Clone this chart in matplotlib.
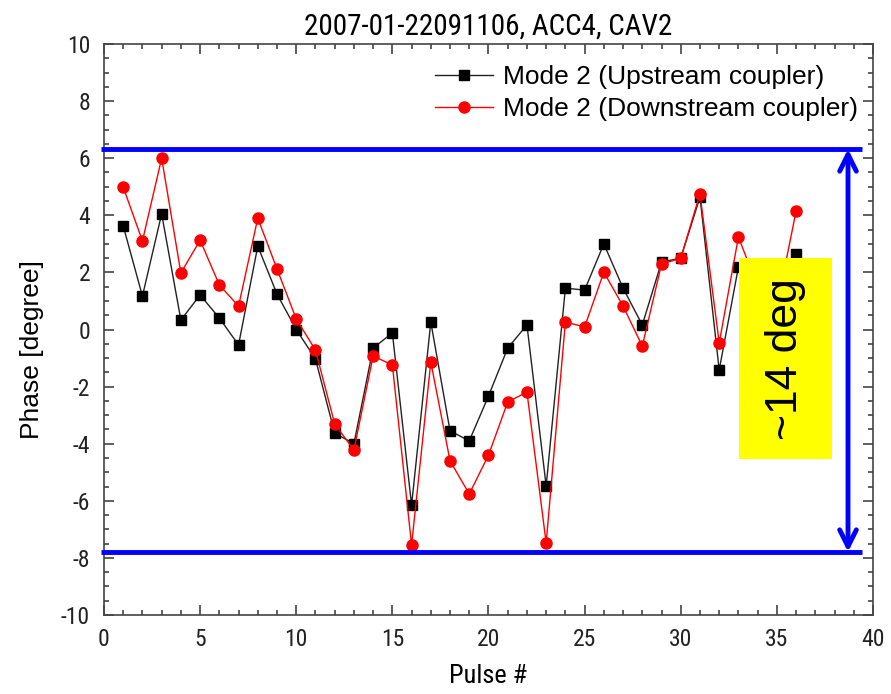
import matplotlib
matplotlib.use("Agg")
import matplotlib.pyplot as plt
from matplotlib.patches import Rectangle
from matplotlib.ticker import MultipleLocator

plt.rcParams["axes.unicode_minus"] = False

narrow = ["Liberation Sans Narrow", "Roboto Condensed", "Liberation Sans", "DejaVu Sans"]
plain = ["Liberation Sans", "DejaVu Sans"]

pulses = list(range(1, 37))
upstream = [3.63, 1.17, 4.05, 0.33, 1.21, 0.40, -0.54, 2.92, 1.24, 0.0,
            -1.03, -3.63, -4.0, -0.65, -0.12, -6.15, 0.26, -3.55, -3.9, -2.33,
            -0.65, 0.16, -5.48, 1.45, 1.38, 3.0, 1.45, 0.16, 2.36, 2.5,
            4.64, -1.42, 2.19, 1.2, 1.0, 2.64]
downstream = [4.99, 3.1, 6.0, 1.98, 3.13, 1.56, 0.82, 3.9, 2.12, 0.37,
              -0.72, -3.31, -4.22, -0.93, -1.24, -7.55, -1.14, -4.6, -5.76, -4.4,
              -2.54, -2.19, -7.48, 0.26, 0.09, 2.01, 0.82, -0.58, 2.29, 2.5,
              4.75, -0.47, 3.24, 1.5, 0.8, 4.15]

band_top = 6.32
band_bottom = -7.79
band_label = "~14 deg"

fig = plt.figure(figsize=(8.91, 6.94), dpi=100)
ax = fig.add_axes([0.1167, 0.1138, 0.8631, 0.8228])

ax.plot(pulses, upstream, color="#222222", lw=1.0, marker="s", ms=7,
        mfc="black", mec="black", label="Mode 2 (Upstream coupler)", zorder=3)
ax.plot(pulses, downstream, color="red", lw=1.0, marker="o", ms=8,
        mfc="red", mec="red", label="Mode 2 (Downstream coupler)", zorder=4)

ax.set_xlim(0, 40)
ax.set_ylim(-10, 10)
ax.xaxis.set_major_locator(MultipleLocator(5))
ax.xaxis.set_minor_locator(MultipleLocator(1))
ax.yaxis.set_major_locator(MultipleLocator(2))
ax.yaxis.set_minor_locator(MultipleLocator(0.5))
ax.tick_params(which="both", direction="in", top=True, right=True,
               color="#444444", width=1.2)
ax.tick_params(which="major", length=7, labelsize=17)
ax.tick_params(axis="x", which="major", pad=9)
ax.tick_params(axis="y", which="major", pad=10)
ax.tick_params(which="minor", length=3.5)
for lab in ax.get_xticklabels() + ax.get_yticklabels():
    lab.set_family(narrow)
    lab.set_color("#222222")
for sp in ax.spines.values():
    sp.set_color("#444444")
    sp.set_linewidth(1.2)

ax.set_title("2007-01-22091106, ACC4, CAV2", family=narrow, fontsize=21,
             pad=7)
ax.set_xlabel("Pulse #", family=narrow, fontsize=19, labelpad=10)
ax.set_ylabel("Phase [degree]", family=plain, fontsize=19)
ax.yaxis.set_label_coords(-0.078, 0.465)

leg = ax.legend(loc="upper right", frameon=False,
                prop={"family": plain, "size": 19}, handlelength=2.2,
                handletextpad=0.4, labelspacing=0.3,
                bbox_to_anchor=(1.012, 1.005))

# Range markers
for yv in (band_top, band_bottom):
    ax.plot([-0.15, 39.45], [yv, yv], color="#0000ff", lw=3.5,
            clip_on=False, zorder=6, solid_capstyle="butt")
ax.annotate("", xy=(38.7, band_top), xytext=(38.7, band_bottom),
            arrowprops=dict(arrowstyle="<->", color="#0000ff", lw=3.5,
                            mutation_scale=30, shrinkA=0, shrinkB=0),
            zorder=6)

ax.add_patch(Rectangle((33.03, -4.54), 4.84, 7.04, facecolor="#ffff00",
                       edgecolor="none", zorder=7))
ax.text(35.45, -1.05, band_label, rotation=90, ha="center", va="center",
        fontsize=32, family=plain, color="black", zorder=8)

fig.savefig("out.png", dpi=100)
